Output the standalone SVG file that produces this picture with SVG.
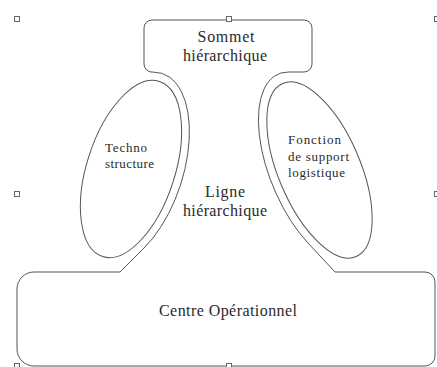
<svg xmlns="http://www.w3.org/2000/svg" width="437" height="367" viewBox="0 0 437 367">
<style>
.ln{fill:none;stroke:#555;stroke-width:1}
.h{fill:#fff;stroke:#666;stroke-width:1}
.t{font-family:"Liberation Serif","Times New Roman",serif;fill:#2a2a2a}
.big{font-size:16px;text-anchor:middle}
.sm{font-size:13px}
</style>
<rect width="437" height="367" fill="#fff"/>
<g id="connectors"></g>
<g id="ligne">
<path class="ln" d="M152,20 H304 A8,8 0 0 1 312,28 V64 A8,8 0 0 1 304,72 H288.5 A49,104 -23 0 0 307.9,242.9 L335,272 H425 A10,10 0 0 1 435,282 V356 A10,10 0 0 1 425,366 H34 A17,17 0 0 1 17,349 V289 A17,17 0 0 1 34,272 H120 L144,248 A52,100.5 18 0 0 153.4,72.1 H152 A8,8 0 0 1 144,64 V28 A8,8 0 0 1 152,20 Z"/>
<text class="t big" x="226" y="42" textLength="57" lengthAdjust="spacing">Sommet</text>
<text class="t big" x="225" y="61" textLength="84" lengthAdjust="spacing">hiérarchique</text>
<text class="t big" x="225" y="197" textLength="40" lengthAdjust="spacing">Ligne</text>
<text class="t big" x="225" y="216" textLength="84" lengthAdjust="spacing">hiérarchique</text>
<text class="t big" x="228" y="316" textLength="138" lengthAdjust="spacing">Centre Opérationnel</text>
</g>
<g id="techno">
<ellipse class="ln" cx="131" cy="169" rx="44" ry="92" transform="rotate(18 131 169)"/>
<text class="t sm" x="105" y="152" textLength="42" lengthAdjust="spacing">Techno</text>
<text class="t sm" x="105" y="168" textLength="49" lengthAdjust="spacing">structure</text>
</g>
<g id="support">
<ellipse class="ln" cx="319.5" cy="170" rx="41" ry="94" transform="rotate(-23 319.5 170)"/>
<text class="t sm" x="288" y="144" textLength="53" lengthAdjust="spacing">Fonction</text>
<text class="t sm" x="288" y="161" textLength="61" lengthAdjust="spacing">de support</text>
<text class="t sm" x="288" y="177" textLength="57" lengthAdjust="spacing">logistique</text>
</g>
<g id="handles">
<rect class="h" x="14.5" y="16.5" width="5" height="5"/>
<rect class="h" x="226.5" y="16.5" width="5" height="5"/>
<rect class="h" x="434.5" y="16.5" width="5" height="5"/>
<rect class="h" x="14.5" y="191.5" width="5" height="5"/>
<rect class="h" x="434.5" y="191.5" width="5" height="5"/>
<rect class="h" x="14.5" y="363.5" width="5" height="5"/>
<rect class="h" x="226.5" y="363.5" width="5" height="5"/>
</g>
</svg>
